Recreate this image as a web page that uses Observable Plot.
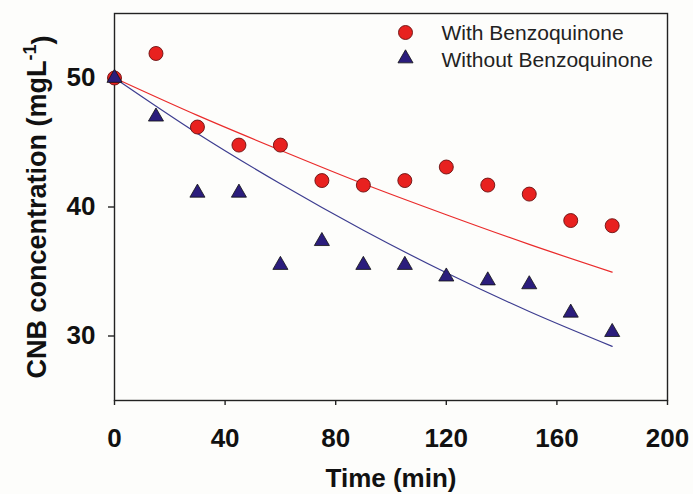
<!DOCTYPE html>
<html>
<head>
<meta charset="utf-8">
<script src="https://cdn.jsdelivr.net/npm/d3@7"></script>
<script src="https://cdn.jsdelivr.net/npm/@observablehq/plot@0.6"></script>
<style>
  html, body { margin: 0; padding: 0; background: #fdfdfb; }
  #chart { width: 693px; height: 494px; }
</style>
</head>
<body>
<div id="chart"></div>
<script>
// ---- data ----
const times = [0, 15, 30, 45, 60, 75, 90, 105, 120, 135, 150, 165, 180];
const withBQ = [50, 51.9, 46.2, 44.8, 44.8, 42.05, 41.7, 42.05, 43.1, 41.7, 41.0, 38.95, 38.55];
const withoutBQ = [50, 47.0, 41.1, 41.1, 35.5, 37.35, 35.5, 35.5, 34.6, 34.3, 34.0, 31.8, 30.3];

// fitted curves
const fitTimes = [0, 30, 60, 90, 120, 150, 180];
const fitWith = [50, 47.1, 44.4, 41.8, 39.4, 37.1, 34.95];
const fitWithout = [50, 45.7, 41.8, 38.2, 34.9, 31.9, 29.2];

const xTicks = [0, 40, 80, 120, 160, 200];
const yTicks = [30, 40, 50];
const seriesNames = ["With Benzoquinone", "Without Benzoquinone"];
const xLabel = "Time (min)";
const yLabel = "CNB concentration (mgL-1)";

// ---- tables ----
const ptsWith = times.map((t, i) => ({t, v: withBQ[i]}));
const ptsWithout = times.map((t, i) => ({t, v: withoutBQ[i]}));
const lineWith = fitTimes.map((t, i) => ({t, v: fitWith[i]}));
const lineWithout = fitTimes.map((t, i) => ({t, v: fitWithout[i]}));

const RED = "#e8211f";
const NAVY = "#2b1d7c";
const BOLD = "'Liberation Sans', Arial, sans-serif";

const chart = Plot.plot({
  width: 693,
  height: 494,
  marginLeft: 114,
  marginRight: 26,
  marginTop: 13,
  marginBottom: 94,
  style: {background: "#fdfdfb", fontFamily: BOLD, color: "#111"},
  x: {domain: [0, 200]},
  y: {domain: [25, 55]},
  marks: [
    Plot.frame({stroke: "#222", strokeWidth: 1.4}),
    Plot.axisX({ticks: xTicks, tickSize: 5, tickPadding: 23, tickFormat: d => String(d),
      fontSize: 26, fontWeight: "bold", label: null, stroke: "#222", strokeWidth: 1.4}),
    Plot.axisY({ticks: yTicks, tickSize: 6, tickPadding: 13, tickFormat: d => String(d),
      fontSize: 26, fontWeight: "bold", label: null, stroke: "#222", strokeWidth: 1.4}),
    Plot.line(lineWith, {x: "t", y: "v", stroke: "#ea2b2b", strokeWidth: 1.2, curve: "monotone-x"}),
    Plot.line(lineWithout, {x: "t", y: "v", stroke: "#3d3d90", strokeWidth: 1.2, curve: "monotone-x"}),
    Plot.dot(ptsWith, {x: "t", y: "v", r: 7, fill: RED, stroke: "#6a1010", strokeWidth: 0.9}),
    Plot.dot(ptsWithout, {x: "t", y: "v", r: 5.6, symbol: "triangle", fill: NAVY, stroke: "#111", strokeWidth: 0.8}),
    // legend
    Plot.dot([seriesNames[0]], {frameAnchor: "top-left", dx: 291, dy: 19, r: 7, fill: RED, stroke: "#6a1010", strokeWidth: 0.9}),
    Plot.dot([seriesNames[1]], {frameAnchor: "top-left", dx: 291, dy: 45, r: 5.6, symbol: "triangle", fill: NAVY, stroke: "#111", strokeWidth: 0.8}),
    Plot.text([seriesNames[0]], {frameAnchor: "top-left", lineAnchor: "middle", dx: 327, dy: 20, text: d => d, textAnchor: "start", fontSize: 21, fill: "#222"}),
    Plot.text([seriesNames[1]], {frameAnchor: "top-left", lineAnchor: "middle", dx: 327, dy: 47, text: d => d, textAnchor: "start", fontSize: 21, fill: "#222"}),
    // axis titles
    Plot.text([xLabel], {frameAnchor: "bottom", lineAnchor: "middle", dy: 78, text: d => d, fontSize: 26, fontWeight: "bold", fill: "#111"}),
    Plot.text([yLabel], {frameAnchor: "left", textAnchor: "middle", lineAnchor: "middle", dx: -77, rotate: -90, text: d => d, fontSize: 27, fontWeight: "bold", fill: "#111"})
  ]
});
document.getElementById("chart").appendChild(chart);

// superscript "-1" in the y title
d3.select(chart).selectAll("text").filter(function() { return this.textContent === yLabel; })
  .each(function() {
    const t = d3.select(this);
    t.text(null);
    t.append("tspan").text("CNB concentration (mgL");
    t.append("tspan").attr("dy", "-0.55em").attr("font-size", "18").text("-1");
    t.append("tspan").attr("dy", "0.55em").text(")");
  });
</script>
</body>
</html>
